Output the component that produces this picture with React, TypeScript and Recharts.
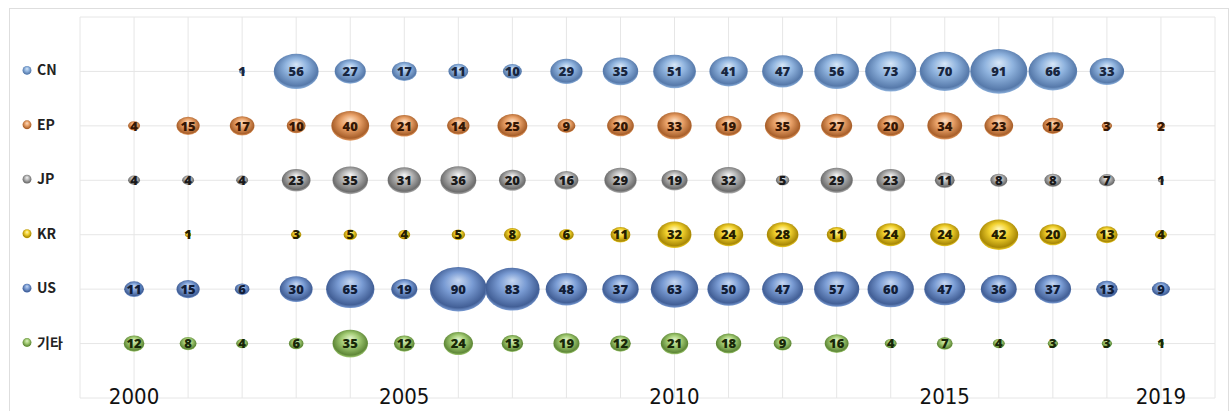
import { CartesianGrid, Scatter, ScatterChart, XAxis, YAxis, ZAxis } from "recharts";

const years = [2000, 2001, 2002, 2003, 2004, 2005, 2006, 2007, 2008, 2009, 2010, 2011, 2012, 2013, 2014, 2015, 2016, 2017, 2018, 2019];
const gridYears = [1999, 2000, 2001, 2002, 2003, 2004, 2005, 2006, 2007, 2008, 2009, 2010, 2011, 2012, 2013, 2014, 2015, 2016, 2017, 2018, 2019, 2020];
const yearLabels = [2000, 2005, 2010, 2015, 2019];

const cn = [null, null, 1, 56, 27, 17, 11, 10, 29, 35, 51, 41, 47, 56, 73, 70, 91, 66, 33, null];
const ep = [4, 15, 17, 10, 40, 21, 14, 25, 9, 20, 33, 19, 35, 27, 20, 34, 23, 12, 3, 2];
const jp = [4, 4, 4, 23, 35, 31, 36, 20, 16, 29, 19, 32, 5, 29, 23, 11, 8, 8, 7, 1];
const kr = [null, 1, null, 3, 5, 4, 5, 8, 6, 11, 32, 24, 28, 11, 24, 24, 42, 20, 13, 4];
const us = [11, 15, 6, 30, 65, 19, 90, 83, 48, 37, 63, 50, 47, 57, 60, 47, 36, 37, 13, 9];
const etc = [12, 8, 4, 6, 35, 12, 24, 13, 19, 12, 21, 18, 9, 16, 4, 7, 4, 3, 3, 1];

const rowNames = ["CN", "EP", "JP", "KR", "US", "기타"];

type Series = {
  key: string;
  name: string;
  values: (number | null)[];
  row: number;
  light: string;
  mid: string;
  dark: string;
  text: string;
};

const series: Series[] = [
  { key: "cn", name: "CN", values: cn, row: 6, light: "#d6e6f7", mid: "#8fb3de", dark: "#5679aa", text: "#18263f" },
  { key: "ep", name: "EP", values: ep, row: 5, light: "#fbdcc0", mid: "#e8a067", dark: "#a85f2a", text: "#351704" },
  { key: "jp", name: "JP", values: jp, row: 4, light: "#f4f4f4", mid: "#b4b4b4", dark: "#6c6c6c", text: "#1a1a1a" },
  { key: "kr", name: "KR", values: kr, row: 3, light: "#fff7b8", mid: "#f1d02c", dark: "#a88806", text: "#261f00" },
  { key: "us", name: "US", values: us, row: 2, light: "#c6d7f1", mid: "#7a9cd4", dark: "#425f96", text: "#121e38" },
  { key: "etc", name: "기타", values: etc, row: 1, light: "#def1c4", mid: "#a3cc74", dark: "#5f8838", text: "#182808" },
];

const pointsOf = (s: Series) =>
  years
    .map((year, i) => ({ x: year, y: s.row, z: s.values[i] }))
    .filter((p) => p.z !== null);

function Bubble(props: any, s: Series) {
  const { cx, cy, size, payload } = props;
  if (cx == null || cy == null) return <g />;
  const r = Math.sqrt(Math.max(size ?? 0, 0) / Math.PI);
  return (
    <g>
      {r > 0 && (
        <ellipse cx={cx} cy={cy} rx={r * 1.13} ry={r * 0.885} fill={`url(#grad-${s.key})`} />
      )}
      <text
        x={cx}
        y={cy}
        dy="0.36em"
        textAnchor="middle"
        fontFamily="'Open Sans', 'Liberation Sans', sans-serif"
        fontWeight={800}
        fontSize={13}
        fill={s.text}
      >
        {payload.z}
      </text>
    </g>
  );
}

function RowTick(props: any) {
  const { y, payload } = props;
  const v = payload.value;
  if (v < 1 || v > 6) return <g />;
  const s = series.find((d) => d.row === v)!;
  return (
    <g>
      <circle cx={27} cy={y - 1} r={4.5} fill={`url(#grad-${s.key})`} />
      <text
        x={37}
        y={y - 1}
        dy="0.36em"
        fontFamily="'Noto Sans CJK KR', 'Noto Sans', sans-serif"
        fontWeight={700}
        fontSize={14}
        fill="#222"
      >
        {rowNames[6 - v]}
      </text>
    </g>
  );
}

function YearTick(props: any) {
  const { x, y, payload } = props;
  if (!yearLabels.includes(payload.value)) return <g />;
  return (
    <text
      x={x}
      y={y + 6}
      textAnchor="middle"
      fontFamily="'Liberation Sans Narrow', 'DejaVu Sans Condensed', sans-serif"
      fontSize={22}
      fill="#111"
    >
      {payload.value}
    </text>
  );
}

export default function App() {
  return (
    <div style={{ position: "relative", width: 1232, height: 411, overflow: "hidden", background: "#fff" }}>
      <style>{`body{margin:0}`}</style>
      <div
        style={{
          position: "absolute",
          left: 9,
          top: 8,
          width: 1218,
          height: 402,
          border: "1px solid #dedede",
          pointerEvents: "none",
        }}
      />
      <ScatterChart width={1232} height={411} margin={{ top: 17, right: 17, bottom: 12, left: 0 }}>
        <defs>
          {series.map((s) => (
            <radialGradient key={s.key} id={`grad-${s.key}`} cx="50%" cy="45%" r="55%" fx="50%" fy="30%">
              <stop offset="0%" stopColor={s.light} />
              <stop offset="45%" stopColor={s.mid} />
              <stop offset="88%" stopColor={s.dark} />
              <stop offset="100%" stopColor={s.mid} />
            </radialGradient>
          ))}
        </defs>
        <CartesianGrid stroke="#e6e6e6" strokeWidth={1} />
        <XAxis
          type="number"
          dataKey="x"
          domain={[1999, 2020]}
          ticks={gridYears}
          interval={0}
          height={1}
          axisLine={false}
          tickLine={false}
          tickSize={0}
          tickMargin={0}
          tick={YearTick}
        />
        <YAxis
          type="number"
          dataKey="y"
          domain={[0, 7]}
          ticks={[0, 1, 2, 3, 4, 5, 6, 7]}
          interval={0}
          width={80}
          axisLine={false}
          tickLine={false}
          tick={RowTick}
        />
        <ZAxis type="number" dataKey="z" domain={[0, 91]} range={[0, 2011]} />
        {series.map((s) => (
          <Scatter
            key={s.key}
            name={s.name}
            data={pointsOf(s)}
            isAnimationActive={false}
            shape={(p: any) => Bubble(p, s)}
          />
        ))}
      </ScatterChart>
    </div>
  );
}
